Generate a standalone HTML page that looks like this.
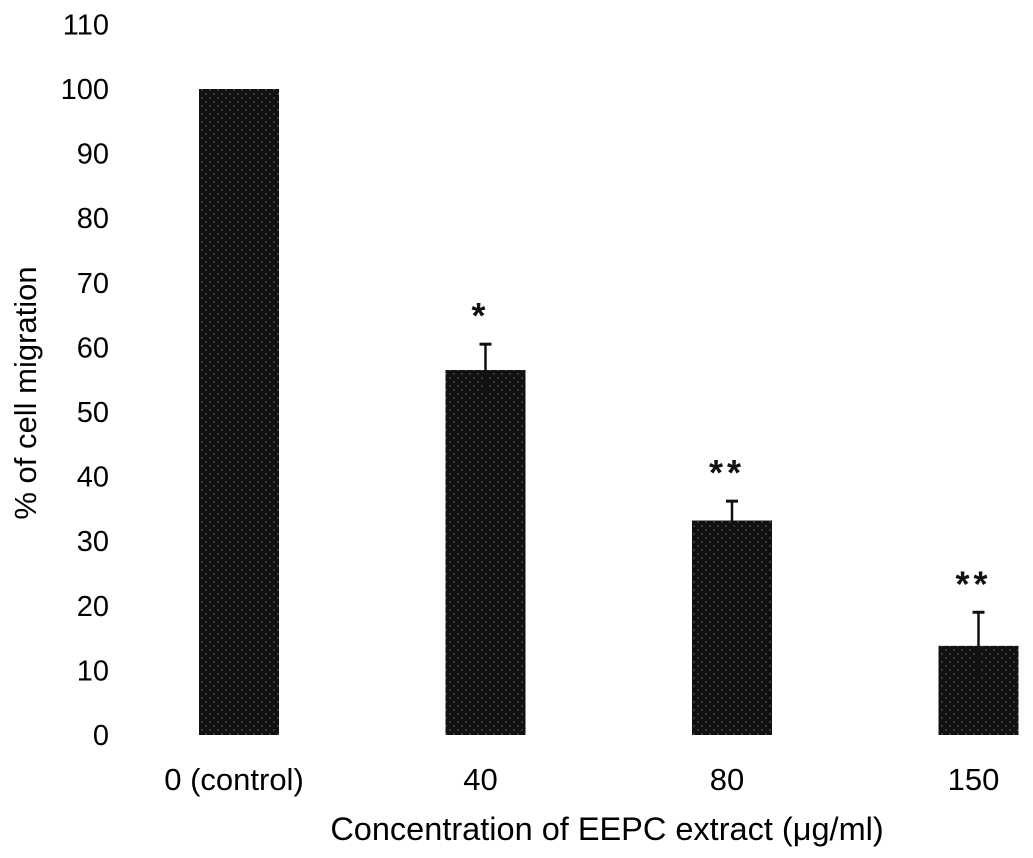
<!DOCTYPE html>
<html><head><meta charset="utf-8"><style>
html,body{margin:0;padding:0;background:#fff;}
svg{display:block;font-family:"Liberation Sans",Arial,sans-serif;}
</style></head><body>
<svg id="chart" width="1033" height="858" viewBox="0 0 1033 858">
<defs>
<pattern id="dots" width="8" height="8" patternUnits="userSpaceOnUse">
<rect width="8" height="8" fill="#111"/>
<circle cx="2" cy="2" r="1" fill="#444"/>
<circle cx="6" cy="6" r="1" fill="#444"/>
</pattern>
</defs>
<g id="yticks"></g>
<g id="bars"></g>
<g id="xlabels"></g>
<text x="36" y="393" transform="rotate(-90 36 393)" text-anchor="middle" font-size="31" fill="#000">% of cell migration</text>
<text x="607" y="840" text-anchor="middle" font-size="32.5" fill="#000">Concentration of EEPC extract (μg/ml)</text>
</svg>
<script>
const categories = ["0 (control)", "40", "80", "150"];
const values = [100, 56.5, 33.2, 13.8];
const errors = [0, 4.0, 3.0, 5.2];
const stars = ["", "*", "**", "**"];
const yTicks = [0,10,20,30,40,50,60,70,80,90,100,110];
const NS = "http://www.w3.org/2000/svg";
const y = v => 735 - v * 6.46;
const xc = i => 239 + i * 246.5;
const bw = 80;
function mk(tag, attrs, parent){const e=document.createElementNS(NS,tag);for(const k in attrs)e.setAttribute(k,attrs[k]);parent.appendChild(e);return e;}
const gy=document.getElementById('yticks'), gb=document.getElementById('bars'), gx=document.getElementById('xlabels');
yTicks.forEach(t=>{
  const e=mk('text',{x:109,y:y(t)+10,'text-anchor':'end','font-size':'29',fill:'#000'},gy);
  e.textContent=t;
  
  
});
categories.forEach((c,i)=>{
  const r=mk('rect',{x:xc(i)-bw/2,y:y(values[i]),width:bw,height:y(0)-y(values[i]),fill:'url(#dots)'},gb);
  
  
  if(errors[i]>0){
    const top=y(values[i]+errors[i]);
    const l=mk('line',{x1:xc(i),x2:xc(i),y1:top,y2:y(values[i]-errors[i]),stroke:'#111','stroke-width':2.5},gb);
    
    
    const cap=mk('line',{x1:xc(i)-6,x2:xc(i)+6,y1:top,y2:top,stroke:'#111','stroke-width':3},gb);
    
    
  }
  if(stars[i]){
    const s=mk('text',{x:xc(i)-5,y:y(values[i]+errors[i])-16,'text-anchor':'middle','font-size':'36','font-weight':'bold','letter-spacing':'4',fill:'#111'},gb);
    s.textContent=stars[i];
    
    
  }
  const t=mk('text',{x:xc(i)-5,y:790,'text-anchor':'middle','font-size':'31',fill:'#000'},gx);
  t.textContent=c;
  
  
});
</script>
</body></html>
